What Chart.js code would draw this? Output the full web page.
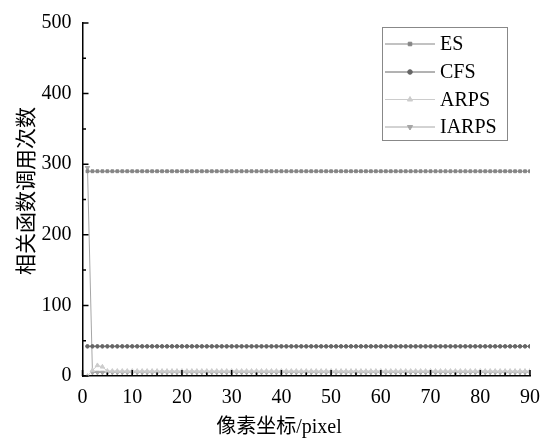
<!DOCTYPE html>
<html>
<head>
<meta charset="utf-8">
<script src="https://cdn.jsdelivr.net/npm/chart.js@4.4.1/dist/chart.umd.min.js"></script>
<style>
  html, body { margin: 0; padding: 0; background: #fff; }
  #wrap { width: 550px; height: 444px; }
</style>
</head>
<body>
<div id="wrap"><canvas id="myChart"></canvas></div>
<script>
// pixel positions 1..90
const pixels = [
  1, 2, 3, 4, 5, 6, 7, 8, 9, 10, 11, 12, 13, 14, 15, 16, 17, 18, 19, 20,
  21, 22, 23, 24, 25, 26, 27, 28, 29, 30, 31, 32, 33, 34, 35, 36, 37, 38, 39, 40,
  41, 42, 43, 44, 45, 46, 47, 48, 49, 50, 51, 52, 53, 54, 55, 56, 57, 58, 59, 60,
  61, 62, 63, 64, 65, 66, 67, 68, 69, 70, 71, 72, 73, 74, 75, 76, 77, 78, 79, 80,
  81, 82, 83, 84, 85, 86, 87, 88, 89, 90
];

const esCalls = [
  290, 290, 290, 290, 290, 290, 290, 290, 290, 290, 290, 290, 290, 290, 290, 290, 290, 290, 290, 290,
  290, 290, 290, 290, 290, 290, 290, 290, 290, 290, 290, 290, 290, 290, 290, 290, 290, 290, 290, 290,
  290, 290, 290, 290, 290, 290, 290, 290, 290, 290, 290, 290, 290, 290, 290, 290, 290, 290, 290, 290,
  290, 290, 290, 290, 290, 290, 290, 290, 290, 290, 290, 290, 290, 290, 290, 290, 290, 290, 290, 290,
  290, 290, 290, 290, 290, 290, 290, 290, 290, 290
];
const cfsCalls = [
  42, 42, 42, 42, 42, 42, 42, 42, 42, 42, 42, 42, 42, 42, 42, 42, 42, 42, 42, 42,
  42, 42, 42, 42, 42, 42, 42, 42, 42, 42, 42, 42, 42, 42, 42, 42, 42, 42, 42, 42,
  42, 42, 42, 42, 42, 42, 42, 42, 42, 42, 42, 42, 42, 42, 42, 42, 42, 42, 42, 42,
  42, 42, 42, 42, 42, 42, 42, 42, 42, 42, 42, 42, 42, 42, 42, 42, 42, 42, 42, 42,
  42, 42, 42, 42, 42, 42, 42, 42, 42, 42
];
const arpsCalls = [
  0, 8, 15, 13, 7, 7, 7, 7, 7, 7, 7, 7, 7, 7, 7, 7, 7, 7, 7, 7,
  7, 7, 7, 7, 7, 7, 7, 7, 7, 7, 7, 7, 7, 7, 7, 7, 7, 7, 7, 7,
  7, 7, 7, 7, 7, 7, 7, 7, 7, 7, 7, 7, 7, 7, 7, 7, 7, 7, 7, 7,
  7, 7, 7, 7, 7, 7, 7, 7, 7, 7, 7, 7, 7, 7, 7, 7, 7, 7, 7, 7,
  7, 7, 7, 7, 7, 7, 7, 7, 7, 7
];
const iarpsCalls = [
  295, 5, 5, 5, 5, 5, 5, 5, 5, 5, 5, 5, 5, 5, 5, 5, 5, 5, 5, 5,
  5, 5, 5, 5, 5, 5, 5, 5, 5, 5, 5, 5, 5, 5, 5, 5, 5, 5, 5, 5,
  5, 5, 5, 5, 5, 5, 5, 5, 5, 5, 5, 5, 5, 5, 5, 5, 5, 5, 5, 5,
  5, 5, 5, 5, 5, 5, 5, 5, 5, 5, 5, 5, 5, 5, 5, 5, 5, 5, 5, 5,
  5, 5, 5, 5, 5, 5, 5, 5, 5, 5
];

const seriesNames = ['ES', 'CFS', 'ARPS', 'IARPS'];
const xTitle = '像素坐标/pixel';
const yTitle = '相关函数调用次数';

const serif = '"Liberation Serif", "Times New Roman", "Noto Sans CJK SC", serif';

function pts(vals) {
  return pixels.map((x, i) => ({ x: x, y: vals[i] }));
}

// inward ticks, axis titles, boxed legend
const decor = {
  id: 'decor',
  afterDraw(chart) {
    const c = chart.ctx;
    const xs = chart.scales.x;
    const ys = chart.scales.y;
    const area = chart.chartArea;
    c.save();
    c.strokeStyle = '#000';
    c.lineWidth = 1.5;
    c.beginPath();
    for (let v = 0; v <= 90; v += 5) {
      const px = xs.getPixelForValue(v);
      const len = v % 10 === 0 ? 6 : 3.5;
      c.moveTo(px, area.bottom);
      c.lineTo(px, area.bottom - len);
    }
    for (let v = 0; v <= 500; v += 50) {
      const py = ys.getPixelForValue(v);
      const len = v % 100 === 0 ? 6 : 3.5;
      c.moveTo(area.left, py);
      c.lineTo(area.left + len, py);
    }
    c.stroke();

    // axis titles
    c.fillStyle = '#000';
    c.textAlign = 'center';
    c.textBaseline = 'middle';
    c.font = '20px ' + serif;
    c.fillText(xTitle, 279, 428);
    c.save();
    c.translate(27, 191);
    c.rotate(-Math.PI / 2);
    c.font = '21px ' + serif;
    c.fillText(yTitle, 0, 0);
    c.restore();

    // legend
    c.strokeStyle = '#888';
    c.lineWidth = 1;
    c.strokeRect(382.5, 27.5, 125, 113);
    const rows = [44, 72, 99.5, 127];
    chart.data.datasets.forEach((ds, i) => {
      const y = rows[i];
      c.strokeStyle = ds.borderColor;
      c.fillStyle = ds.backgroundColor;
      c.lineWidth = 1;
      c.beginPath();
      c.moveTo(385, y);
      c.lineTo(435, y);
      c.stroke();
      Chart.helpers.drawPoint(c, {
        pointStyle: ds.pointStyle,
        radius: ds.pointRadius + 0.5,
        rotation: ds.pointRotation || 0,
        borderWidth: 1
      }, 410, y);
      c.fillStyle = '#000';
      c.textAlign = 'left';
      c.font = '20px ' + serif;
      c.fillText(ds.label, 440, y + 1);
    });
    c.restore();
  }
};

const ctx = document.getElementById('myChart');

new Chart(ctx, {
  type: 'line',
  data: {
    datasets: [
      {
        label: seriesNames[0],
        data: pts(esCalls),
        borderColor: '#858585',
        backgroundColor: '#858585',
        pointStyle: 'rect',
        pointRadius: 2,
        borderWidth: 1
      },
      {
        label: seriesNames[1],
        data: pts(cfsCalls),
        borderColor: '#666666',
        backgroundColor: '#666666',
        pointStyle: 'circle',
        pointRadius: 1.8,
        borderWidth: 1
      },
      {
        label: seriesNames[2],
        data: pts(arpsCalls),
        borderColor: '#cccccc',
        backgroundColor: '#cccccc',
        pointStyle: 'triangle',
        pointRadius: 2.5,
        borderWidth: 1
      },
      {
        label: seriesNames[3],
        data: pts(iarpsCalls),
        borderColor: '#a6a6a6',
        backgroundColor: '#a6a6a6',
        pointStyle: 'triangle',
        pointRotation: 180,
        pointRadius: 2.5,
        borderWidth: 1
      }
    ]
  },
  options: {
    responsive: true,
    maintainAspectRatio: false,
    animation: false,
    devicePixelRatio: 1,
    layout: {
      autoPadding: false,
      padding: { left: 0, right: 17.5, top: 15, bottom: 0 }
    },
    elements: {
      line: { tension: 0 },
      point: { borderWidth: 1, hoverRadius: 3 }
    },
    plugins: {
      legend: { display: false },
      tooltip: { enabled: false }
    },
    scales: {
      x: {
        type: 'linear',
        min: 0,
        max: 90,
        afterFit: s => { s.height = 68; },
        grid: { drawOnChartArea: false, drawTicks: false },
        border: { display: true, color: '#000', width: 1.5 },
        ticks: {
          stepSize: 10,
          padding: 10,
          color: '#000',
          font: { family: serif, size: 20 },
          maxRotation: 0
        }
      },
      y: {
        min: 0,
        max: 500,
        afterFit: s => { s.width = 82.5; },
        grid: { drawOnChartArea: false, drawTicks: false },
        border: { display: true, color: '#000', width: 1.5 },
        ticks: {
          stepSize: 100,
          padding: 11,
          color: '#000',
          font: { family: serif, size: 20 }
        }
      }
    }
  },
  plugins: [decor]
});
</script>
</body>
</html>
